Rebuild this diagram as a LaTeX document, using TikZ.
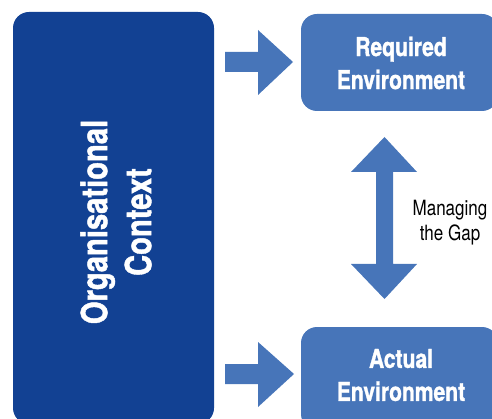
\documentclass[tikz,border=0pt]{standalone}
\usepackage{fontspec}
\setmainfont{TeX Gyre Heros}[FakeStretch=0.81, BoldFeatures={FakeBold=1.2}]
\usetikzlibrary{positioning}
\definecolor{orgblue}{RGB}{18,65,147}
\definecolor{envblue}{RGB}{71,117,185}
\tikzset{
  orgbox/.style={fill=orgblue, draw=none, rounded corners=16pt},
  envbox/.style={fill=envblue, draw=none, rounded corners=16pt},
  orgtext/.style={text=white, font=\bfseries\fontsize{36}{44}\selectfont,
    align=center, rotate=90},
  envtext/.style={text=white, font=\bfseries\fontsize{26}{33}\selectfont,
    align=center},
  blockarrow/.style={fill=envblue, draw=none},
  gaplabel/.style={text=black, font=\fontsize{21}{25}\selectfont, align=center}
}
\begin{document}
\begin{tikzpicture}[x=1pt,y=-1pt]
  \useasboundingbox (0,0) rectangle (492,419);
  \clip (0,0) rectangle (492,419);

  % context block on the left
  \path[orgbox] (13,12) rectangle (214,424);
  \node[orgtext] (org) at (116,222) {Organisational\\Context};

  % environment boxes
  \path[envbox] (301,14) rectangle (498,111);
  \node[envtext] (req) at (401,63) {Required\\Environment};
  \path[envbox] (301,327) rectangle (498,430);
  \node[envtext] (act) at (401,375) {Actual\\Environment};

  % block arrows from the context to each environment
  \fill[blockarrow] (225,52) -- (258,52) -- (258,30) -- (293,62)
        -- (258,95) -- (258,72) -- (225,72) -- cycle;
  \fill[blockarrow] (225,364) -- (258,364) -- (258,342) -- (294,374)
        -- (258,407) -- (258,384) -- (225,384) -- cycle;

  % two-headed arrow between the environments
  \fill[blockarrow] (384.5,137) -- (417,172) -- (393,172) -- (393,264)
        -- (417,264) -- (384.5,299) -- (351,264) -- (376,264) -- (376,172)
        -- (351,172) -- cycle;
  \node[gaplabel] (gap) at (450,223) {Managing\\the Gap};
\end{tikzpicture}
\end{document}
